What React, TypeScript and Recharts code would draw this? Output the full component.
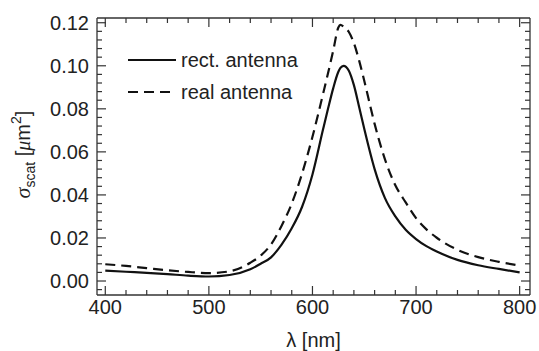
import React from 'react';
import { LineChart, Line, XAxis, YAxis } from 'recharts';

// wavelength samples (nm)
const wavelengths = [
  400, 420, 440, 460, 480, 500, 520, 540, 550, 560, 570, 580, 590, 600, 610, 615, 620,
  625, 627, 630, 635, 640, 645, 650, 660, 670, 680, 690, 700, 710, 720, 740, 760, 780, 800,
];

// scattering cross section, rectangular antenna (um^2)
const rectAntenna = [
  0.0048, 0.0043, 0.0038, 0.0032, 0.0025, 0.0021, 0.0028, 0.0055, 0.008, 0.011, 0.0168, 0.0245,
  0.0345, 0.0495, 0.07, 0.08, 0.0895, 0.0972, 0.099, 0.1, 0.0978, 0.091, 0.081, 0.0707,
  0.052, 0.0385, 0.03, 0.0238, 0.0195, 0.0162, 0.0137, 0.0098, 0.0073, 0.0056, 0.004,
];

// scattering cross section, real antenna (um^2)
const realAntenna = [
  0.0078, 0.007, 0.006, 0.005, 0.0042, 0.0037, 0.0045, 0.0085, 0.0118, 0.017, 0.0255, 0.036,
  0.05, 0.067, 0.0865, 0.0965, 0.107, 0.1178, 0.119, 0.1182, 0.1158, 0.1105, 0.1025, 0.093,
  0.073, 0.0565, 0.0445, 0.0365, 0.0292, 0.024, 0.0201, 0.0145, 0.0111, 0.0089, 0.0072,
];

const xTicks = [400, 420, 440, 460, 480, 500, 520, 540, 560, 580, 600, 620, 640, 660, 680, 700, 720, 740, 760, 780, 800];
const xMajor = [400, 500, 600, 700, 800];
const yTicks = [
  -0.004, 0, 0.004, 0.008, 0.012, 0.016, 0.02, 0.024, 0.028, 0.032, 0.036, 0.04, 0.044, 0.048,
  0.052, 0.056, 0.06, 0.064, 0.068, 0.072, 0.076, 0.08, 0.084, 0.088, 0.092, 0.096, 0.1, 0.104,
  0.108, 0.112, 0.116, 0.12,
];
const yMajor = [0, 0.02, 0.04, 0.06, 0.08, 0.1, 0.12];

const series = [
  { key: 'rect', name: 'rect. antenna', dash: undefined as string | undefined },
  { key: 'real', name: 'real antenna', dash: '10 6' },
];

const data = wavelengths.map((w, i) => ({ w, rect: rectAntenna[i], real: realAntenna[i] }));

const FONT = '"Liberation Sans", Arial, sans-serif';
const SERIF = '"Liberation Serif", "DejaVu Serif", serif';
const TEXT = '#222';
const FRAME = '#333';
const X_DOMAIN = [392, 810];
const Y_DOMAIN = [-0.0065, 0.1222];

const isXMajor = (v: number) => xMajor.some((m) => Math.abs(m - v) < 1e-6);
const isYMajor = (v: number) => yMajor.some((m) => Math.abs(m - v) < 1e-6);

const BottomTick = (props: any) => {
  const { x, y, payload } = props;
  const major = isXMajor(payload.value);
  return (
    <g>
      <line x1={x} x2={x} y1={y} y2={y - (major ? 9 : 5)} stroke={FRAME} strokeWidth={1.2} />
      {major && (
        <text x={x} y={y + 19} textAnchor="middle" fontSize={20} fill={TEXT} fontFamily={FONT}>
          {payload.value}
        </text>
      )}
    </g>
  );
};

const TopTick = (props: any) => {
  const { x, y, payload } = props;
  const major = isXMajor(payload.value);
  return <line x1={x} x2={x} y1={y} y2={y + (major ? 9 : 5)} stroke={FRAME} strokeWidth={1.2} />;
};

const LeftTick = (props: any) => {
  const { x, y, payload } = props;
  const major = isYMajor(payload.value);
  return (
    <g>
      <line x1={x} x2={x + (major ? 9 : 5)} y1={y} y2={y} stroke={FRAME} strokeWidth={1.2} />
      {major && (
        <text x={x - 8} y={y + 7} textAnchor="end" fontSize={20} fill={TEXT} fontFamily={FONT}>
          {payload.value.toFixed(2)}
        </text>
      )}
    </g>
  );
};

const RightTick = (props: any) => {
  const { x, y, payload } = props;
  const major = isYMajor(payload.value);
  return <line x1={x} x2={x - (major ? 9 : 5)} y1={y} y2={y} stroke={FRAME} strokeWidth={1.2} />;
};

const YLabel = (props: any) => {
  const vb = props.viewBox || { x: 0, y: 18, width: 97, height: 277 };
  const cx = vb.x + 30;
  const cy = vb.y + vb.height / 2 - 2;
  return (
    <text
      x={cx}
      y={cy}
      transform={`rotate(-90, ${cx}, ${cy})`}
      textAnchor="middle"
      fontSize={20}
      fill={TEXT}
      fontFamily={FONT}
    >
      <tspan fontStyle="italic" fontFamily={SERIF} fontSize={22}>σ</tspan>
      <tspan fontSize={14} dy={5}>scat</tspan>
      <tspan dy={-5}> [</tspan>
      <tspan fontStyle="italic" fontFamily={SERIF}>μ</tspan>
      <tspan>m</tspan>
      <tspan fontSize={14} dy={-9}>2</tspan>
      <tspan dy={9}>]</tspan>
    </text>
  );
};

const XLabel = (props: any) => {
  const vb = props.viewBox || { x: 97, y: 295, width: 433, height: 56 };
  return (
    <text x={vb.x + vb.width / 2} y={vb.y + 52} textAnchor="middle" fontSize={20} fill={TEXT} fontFamily={FONT}>
      λ [nm]
    </text>
  );
};

const LegendBox = () => (
  <div style={{ position: 'absolute', left: 127, top: 44, fontFamily: FONT, fontSize: 20, color: TEXT }}>
    {series.map((s) => (
      <div key={s.key} style={{ display: 'flex', alignItems: 'center', height: 32 }}>
        <svg width={50} height={10} style={{ marginRight: 4 }}>
          <line x1={1} x2={49} y1={5} y2={5} stroke="#111" strokeWidth={2.2} strokeDasharray={s.dash} />
        </svg>
        <span>{s.name}</span>
      </div>
    ))}
  </div>
);

export default function App() {
  return (
    <div style={{ position: 'absolute', left: 0, top: 0, width: 539, height: 351, background: '#fff' }}>
      <LineChart width={539} height={351} data={data} margin={{ top: 17, right: 0, bottom: 0, left: 0 }}>
        <XAxis
          xAxisId="b"
          dataKey="w"
          type="number"
          domain={X_DOMAIN}
          allowDataOverflow
          ticks={xTicks}
          interval={0}
          height={56}
          tickSize={0}
          tickMargin={0}
          tick={<BottomTick />}
          axisLine={{ stroke: FRAME, strokeWidth: 1.3 }}
          label={<XLabel />}
        />
        <XAxis
          xAxisId="t"
          orientation="top"
          dataKey="w"
          type="number"
          domain={X_DOMAIN}
          allowDataOverflow
          ticks={xTicks}
          interval={0}
          height={1}
          tickSize={0}
          tickMargin={0}
          tick={<TopTick />}
          axisLine={{ stroke: FRAME, strokeWidth: 1.3 }}
        />
        <YAxis
          yAxisId="l"
          type="number"
          domain={Y_DOMAIN}
          allowDataOverflow
          ticks={yTicks}
          interval={0}
          width={97}
          tickSize={0}
          tickMargin={0}
          tick={<LeftTick />}
          axisLine={{ stroke: FRAME, strokeWidth: 1.3 }}
          label={<YLabel />}
        />
        <YAxis
          yAxisId="r"
          orientation="right"
          type="number"
          domain={Y_DOMAIN}
          allowDataOverflow
          ticks={yTicks}
          interval={0}
          width={9}
          tickSize={0}
          tickMargin={0}
          tick={<RightTick />}
          axisLine={{ stroke: FRAME, strokeWidth: 1.3 }}
        />
        {series.map((s) => (
          <Line
            key={s.key}
            xAxisId="b"
            yAxisId="l"
            type="monotone"
            dataKey={s.key}
            name={s.name}
            stroke="#111"
            strokeWidth={2.2}
            strokeDasharray={s.dash}
            dot={false}
            activeDot={false}
            isAnimationActive={false}
          />
        ))}
      </LineChart>
      <LegendBox />
    </div>
  );
}
